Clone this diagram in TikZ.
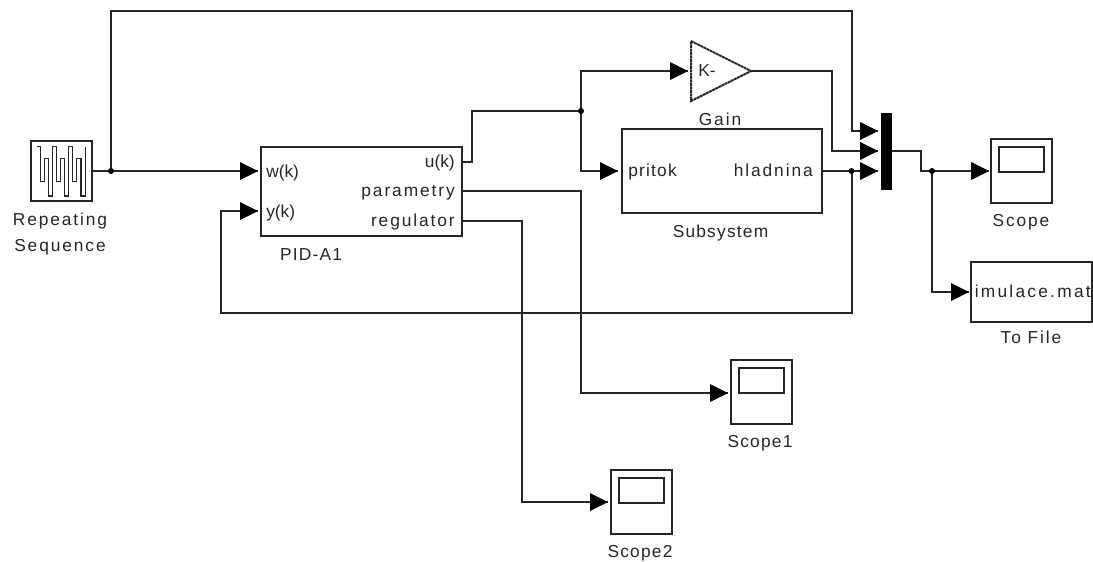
\documentclass[tikz,border=0pt]{standalone}
\usepackage{fontspec}
\setmainfont[LetterSpace=11]{Liberation Sans}
\newfontfamily\tightfont{Liberation Sans}
\newfontfamily\midfont[LetterSpace=7]{Liberation Sans}
\newfontfamily\widefont[LetterSpace=13]{Liberation Sans}
\tikzset{
  x=0.75pt,y=-0.75pt,
  wire/.style={line width=1.5pt,black!85,line join=miter},
  blockbox/.style={draw=black!85,line width=1.5pt,fill=white,inner sep=0pt,outer sep=0pt},
  tiphead/.style={fill=black,draw=none},
  txt/.style={inner sep=0pt,font=\fontsize{13pt}{15pt}\selectfont,text=black!85,anchor=base},
  midtxt/.style={inner sep=0pt,font=\midfont\fontsize{13pt}{15pt}\selectfont,text=black!85,anchor=base},
  widetxt/.style={inner sep=0pt,font=\widefont\fontsize{13pt}{15pt}\selectfont,text=black!85,anchor=base},
  tighttxt/.style={inner sep=0pt,font=\tightfont\fontsize{13pt}{15pt}\selectfont,text=black!85,anchor=base},
  junction/.style={circle,fill=black,inner sep=0pt,minimum size=6pt*0.75},
}
\newcommand{\rectnode}[5]{\node[blockbox,rectangle,minimum width=#4*0.75pt,minimum height=#5*0.75pt,anchor=north west] (#1) at (#2,#3) {};}
\newcommand{\headat}[2]{\fill[tiphead] (#1-18,#2-9) -- (#1,#2) -- (#1-18,#2+9) -- cycle;}
\begin{document}
\begin{tikzpicture}
\useasboundingbox (0,0) rectangle (1093,561);
% blocks
\rectnode{rep}{31}{141}{61}{60}
\rectnode{pid}{261}{147}{201}{89}
\rectnode{sub}{622}{129}{200}{84}
\rectnode{scope}{991}{139}{61}{64}
\rectnode{scopeb}{731}{360}{61}{64}
\rectnode{scopec}{611}{470}{61}{64}
\rectnode{tofile}{971}{262}{121}{60}
\rectnode{scopei}{999}{147}{45}{25}
\rectnode{scopebi}{739}{368}{45}{25}
\rectnode{scopeci}{619}{478}{45}{25}
\node[fill=black,draw=none,inner sep=0pt,outer sep=0pt,minimum width=8.25pt,minimum height=58pt,anchor=north west] (mux) at (881,113) {};
\coordinate (gl) at (691,41); \coordinate (gb) at (691,101); \coordinate (gr) at (751,71);
\draw[blockbox,dash pattern=on 2.2pt off 0.4pt] (gl) -- (gr) -- (gb) -- cycle;
% icon
\draw[line width=1.1pt,black!85] (36.7,146.7) -- (40.7,146.7) -- (40.7,181.7) -- (44.3,181.7) -- (44.3,158.3) -- (48.3,158.3) -- (48.3,196) -- (52.3,196) -- (52.3,146.7) -- (56.7,146.7) -- (56.7,181.7) -- (60.7,181.7) -- (60.7,158.3) -- (64.7,158.3) -- (64.7,196) -- (68.7,196) -- (68.7,146.7) -- (72.7,146.7) -- (72.7,181.7) -- (76.7,181.7) -- (76.7,158.3) -- (81,158.3) -- (81,196) -- (85.7,196) -- (85.7,146.7);
% coordinates
\coordinate (j1) at (111,171);
\coordinate (top1) at (111,11);
\coordinate (top2) at (851.5,11);
\coordinate (m1) at (851.5,131);
\coordinate (pw) at (258,171);
\coordinate (py) at (258,211);
\coordinate (fb1) at (851.5,313);
\coordinate (fb2) at (221,313);
\coordinate (fb3) at (221,211);
\coordinate (j3) at (851.5,171);
\coordinate (u1) at (462,162);
\coordinate (u2) at (471.5,162);
\coordinate (u3) at (471.5,111);
\coordinate (j2) at (581,111);
\coordinate (j2a) at (581,71);
\coordinate (j2b) at (581,171);
\draw[wire] (rep.east |- j1) -- (j1) -- (pw);
\draw[wire] (j1) -- (top1) -- (top2) -- (m1) -- (878,131);
\draw[wire] (sub.east |- j3) -- (j3) -- (878,171);
\draw[wire] (j3) -- (fb1) -- (fb2) -- (fb3) -- (py);
\draw[wire] (u1) -- (u2) -- (u3) -- (j2);
\draw[wire] (j2) -- (j2a) -- (688,71);
\draw[wire] (j2) -- (j2b) -- (618,171);
\draw[wire] (gr) -- (832,71) -- (832,151) -- (878,151);
\draw[wire] (462,191) -- (581,191) -- (581,393) -- (728,393);
\draw[wire] (462,221) -- (522,221) -- (522,502) -- (608,502);
\draw[wire] (892,151) -- (921,151) -- (921,171) -- (989,171);
\draw[wire] (932,171) -- (932,292) -- (969,292);
% heads
\headat{258}{171}\headat{258}{211}\headat{618}{171}\headat{688}{71}
\headat{878}{131}\headat{878}{151}\headat{878}{171}
\headat{989}{171}\headat{969}{292}\headat{728}{393}\headat{608}{502}
\node[junction] (dj1) at (j1) {};
\node[junction] (dj2) at (j2) {};
\node[junction] (dj3) at (j3) {};
\node[junction] (dj4) at (932,171) {};
% texts
\node[txt] (t1) at (60,225) {Repeating};
\node[txt] (t2) at (60,251) {Sequence};
\node[midtxt] (t3) at (311,260) {PID-A1};
\node[txt] (t4) at (720,125) {Gain};
\node[midtxt] (t5) at (720.5,237) {Subsystem};
\node[txt] (t6) at (1021,226) {Scope};
\node[txt] (t7) at (1031,343) {To File};
\node[midtxt] (t8) at (760,447) {Scope1};
\node[midtxt] (t9) at (640,557) {Scope2};
\node[tighttxt,anchor=base west] (t10) at (266,177) {w(k)};
\node[tighttxt,anchor=base west] (t11) at (266,217) {y(k)};
\node[tighttxt,anchor=base east] (t12) at (455,167) {u(k)};
\node[txt,anchor=base east] (t13) at (455,196) {parametry};
\node[txt,anchor=base east] (t14) at (455,226) {regulator};
\node[midtxt,anchor=base west] (t15) at (628,176) {pritok};
\node[txt,anchor=base east] (t16) at (813,176) {hladnina};
\node[tighttxt,anchor=base west] (t17) at (698,76) {K-};
\node[widetxt,anchor=base west] (t18) at (974.5,297) {imulace.mat};
\end{tikzpicture}
\end{document}
